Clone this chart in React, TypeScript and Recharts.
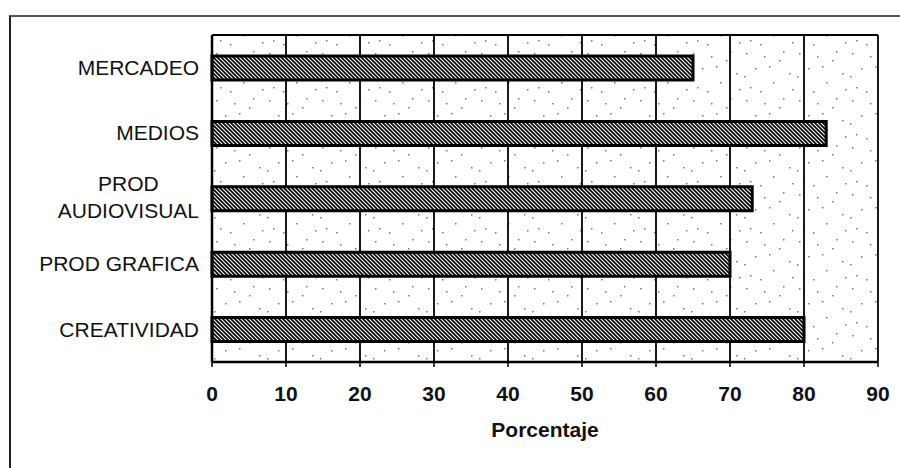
import React from "react";
import {
  BarChart,
  Bar,
  XAxis,
  YAxis,
  CartesianGrid,
} from "recharts";

const categories = [
  "MERCADEO",
  "MEDIOS",
  "PROD AUDIOVISUAL",
  "PROD GRAFICA",
  "CREATIVIDAD",
];
const porcentajes = [65, 83, 73, 70, 80];
const xTicks = [0, 10, 20, 30, 40, 50, 60, 70, 80, 90];
const bandEdges = [0, 1, 2, 3, 4, 5];

const data = categories.map((name, i) => ({ name, value: porcentajes[i] }));

const FONT = "'Liberation Sans', Arial, Helvetica, sans-serif";

// sparse stipple for the plot background (scanned paper texture)
const dots = [
  [4, 6], [13, 21], [22, 9], [31, 35], [41, 4], [8, 40], [47, 26],
  [27, 19], [18, 44], [37, 13], [50, 42], [2, 29],
];

let measureCtx: CanvasRenderingContext2D | null = null;
function textWidth(s: string, font: string) {
  if (!measureCtx) measureCtx = document.createElement("canvas").getContext("2d");
  if (!measureCtx) return s.length * 12;
  measureCtx.font = font;
  return measureCtx.measureText(s).width;
}

function CategoryTick(props: any) {
  const { x, y, payload } = props;
  const label: string = payload.value;
  const style = { fontFamily: FONT, fontSize: 21, fill: "#111" };
  if (label.length > 14) {
    const sp = label.indexOf(" ");
    const lines = [label.slice(0, sp), label.slice(sp + 1)];
    const w = Math.max(...lines.map((l) => textWidth(l, `21px ${FONT}`)));
    const cx = x - w / 2;
    return (
      <g>
        <text x={cx} y={y - 15} dy="0.35em" textAnchor="middle" {...style}>
          {lines[0]}
        </text>
        <text x={cx} y={y + 12} dy="0.35em" textAnchor="middle" {...style}>
          {lines[1]}
        </text>
      </g>
    );
  }
  return (
    <text x={x} y={y} dy="0.35em" textAnchor="end" {...style}>
      {label}
    </text>
  );
}

export default function App() {
  return (
    <div style={{ position: "absolute", left: 0, top: 0, width: 900, height: 468, background: "#fff" }}>
      <svg width={0} height={0} style={{ position: "absolute" }}>
        <defs>
          <pattern id="hatch" width={4} height={4} patternUnits="userSpaceOnUse">
            <rect width={4} height={4} fill="#fff" />
            <path d="M-1,-1 L5,5 M-1,3 L1,5 M3,-1 L5,1" stroke="#000" strokeWidth={1.7} />
          </pattern>
          <pattern id="stipple" width={53} height={47} patternUnits="userSpaceOnUse">
            <rect width={53} height={47} fill="#fff" />
            {dots.map(([dx, dy], i) => (
              <rect key={i} x={dx} y={dy} width={1.5} height={1.5} fill="#777" />
            ))}
          </pattern>
        </defs>
      </svg>
      <div
        style={{
          position: "absolute",
          left: 9,
          top: 15,
          width: 891,
          height: 453,
          borderTop: "2px solid #555",
          borderLeft: "2px solid #222",
        }}
      />
      <div style={{ position: "absolute", left: 0, top: 0 }}>
        <BarChart
          width={900}
          height={468}
          data={data}
          layout="vertical"
          margin={{ top: 35, right: 22, bottom: 26, left: 0 }}
          barCategoryGap={0}
        >
          <CartesianGrid
            stroke="#000"
            strokeWidth={1.8}
            fill="url(#stipple)"
            fillOpacity={1}
            horizontalCoordinatesGenerator={({ offset }: any) => [offset.top]}
          />
          <XAxis
            type="number"
            domain={[0, 90]}
            ticks={xTicks}
            interval={0}
            height={80}
            axisLine={{ stroke: "#000", strokeWidth: 2.5 }}
            tickLine={{ stroke: "#000", strokeWidth: 1.5 }}
            tickSize={5}
            tickMargin={19}
            tick={{ fontFamily: FONT, fontSize: 21, fontWeight: 700, fill: "#111" }}
            label={{
              value: "Porcentaje",
              position: "insideBottom",
              offset: 5,
              style: { fontFamily: FONT, fontSize: 21, fontWeight: 700, fill: "#111" },
            }}
          />
          <YAxis
            yAxisId="band"
            type="number"
            domain={[0, 5]}
            ticks={bandEdges}
            width={0}
            axisLine={false}
            tickSize={6}
            tickLine={{ stroke: "#000", strokeWidth: 1.5 }}
            tick={() => <g />}
          />
          <YAxis
            yAxisId="cat"
            type="category"
            dataKey="name"
            width={212}
            axisLine={{ stroke: "#000", strokeWidth: 2.5 }}
            tickLine={false}
            tickSize={0}
            tickMargin={13}
            interval={0}
            tick={<CategoryTick />}
          />
          <Bar
            yAxisId="cat"
            dataKey="value"
            barSize={24}
            fill="url(#hatch)"
            stroke="#000"
            strokeWidth={3}
            isAnimationActive={false}
          />
        </BarChart>
      </div>
    </div>
  );
}
